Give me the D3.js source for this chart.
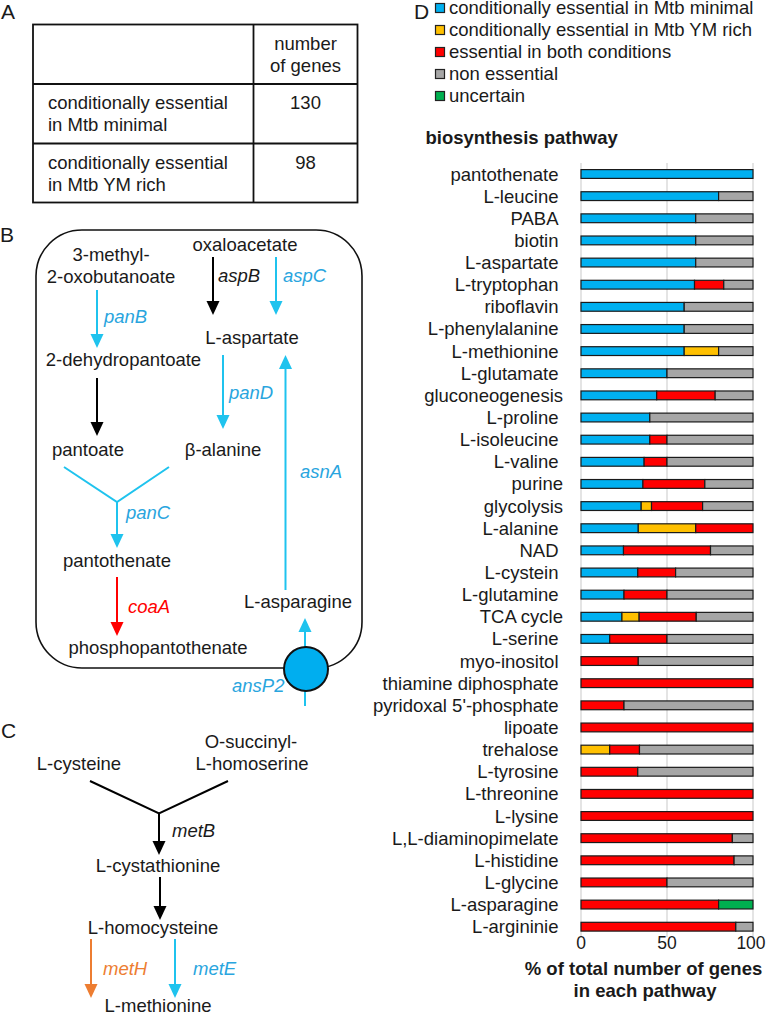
<!DOCTYPE html>
<html><head><meta charset="utf-8">
<script src="https://cdn.jsdelivr.net/npm/d3@7"></script>
<style>html,body{margin:0;padding:0;background:#fff}svg{display:block}text{font-family:"Liberation Sans",Arial,sans-serif;fill:#1a1a1a}</style>
</head><body><svg id="c" width="766" height="1016"></svg>
<script>
const categories=["pantothenate","L-leucine","PABA","biotin","L-aspartate","L-tryptophan","riboflavin","L-phenylalanine","L-methionine","L-glutamate","gluconeogenesis","L-proline","L-isoleucine","L-valine","purine","glycolysis","L-alanine","NAD","L-cystein","L-glutamine","TCA cycle","L-serine","myo-inositol","thiamine diphosphate","pyridoxal 5'-phosphate","lipoate","trehalose","L-tyrosine","L-threonine","L-lysine","L,L-diaminopimelate","L-histidine","L-glycine","L-asparagine","L-argininie"];
const seriesNames=["conditionally essential in Mtb minimal","conditionally essential in Mtb YM rich","essential in both conditions","non essential","uncertain"];
const seriesColors=["#00b0f0","#ffc000","#ff0000","#a6a6a6","#00b050"];
const condMinimal=[100,80,66.7,66.7,66.7,66,60,60,60,50,44,40,40,36.7,36,35,33.3,24.7,33,25,23.8,16.7,0,0,0,0,0,0,0,0,0,0,0,0,0];
const condRich=[0,0,0,0,0,0,0,0,20,0,0,0,0,0,0,6,33.4,0,0,0,10,0,0,0,0,0,16.7,0,0,0,0,0,0,0,0];
const essentialBoth=[0,0,0,0,0,17,0,0,0,0,34,0,10,13.3,36,29.7,33.3,50.6,22,25,33.2,33.3,33.3,100,25,100,17.3,33,100,100,88,89,50,80,90];
const nonEssential=[0,20,33.3,33.3,33.3,17,40,40,20,50,22,60,50,50,28,29.3,0,24.7,45,50,33,50,66.7,0,75,0,66,67,0,0,12,11,50,0,10];
const uncertain=[0,0,0,0,0,0,0,0,0,0,0,0,0,0,0,0,0,0,0,0,0,0,0,0,0,0,0,0,0,0,0,0,0,20,0];
const xTicks=[0,50,100];
const tableRows=[["conditionally essential","in Mtb minimal","130"],["conditionally essential","in Mtb YM rich","98"]];
const shiftedLabels=["gluconeogenesis","purine","glycolysis","TCA cycle"];

const svg=d3.select("#c");
const FS=18.5;
const x=d3.scaleLinear().domain([0,100]).range([581,753]);
const y=d3.scalePoint().domain(categories).range([174,926.7]);
const color=d3.scaleOrdinal().domain(seriesNames).range(seriesColors);
const table=categories.map((c,i)=>({cat:c,[seriesNames[0]]:condMinimal[i],[seriesNames[1]]:condRich[i],[seriesNames[2]]:essentialBoth[i],[seriesNames[3]]:nonEssential[i],[seriesNames[4]]:uncertain[i]}));
const stacked=d3.stack().keys(seriesNames)(table);

function txt(s,px,py,o={}){const t=svg.append("text").attr("x",px).attr("y",py).attr("font-size",o.size||FS).text(s);
 if(o.anchor)t.attr("text-anchor",o.anchor);if(o.italic)t.attr("font-style","italic");if(o.bold)t.attr("font-weight","bold");if(o.fill)t.style("fill",o.fill);return t;}

// panel letters
txt("A",1,18.5,{size:21});txt("B",0,241.5,{size:21});txt("C",1,738,{size:21});txt("D",414,19,{size:21});

// panel A
const tb=svg.append("g").attr("stroke","#111").attr("stroke-width",1.8).attr("fill","none");
tb.append("rect").attr("x",33).attr("y",24.5).attr("width",324.5).attr("height",178);
[[33,84,357.5,84],[33,143.5,357.5,143.5],[253.5,24.5,253.5,202.5]].forEach(l=>tb.append("line").attr("x1",l[0]).attr("y1",l[1]).attr("x2",l[2]).attr("y2",l[3]));
txt("number",305.5,50,{anchor:"middle"});txt("of genes",305.5,72,{anchor:"middle"});
tableRows.forEach((r,i)=>{const b=[109,169][i];txt(r[0],48,b);txt(r[1],48,b+22);txt(r[2],305.5,b,{anchor:"middle"});});

// pathway helpers
const BLUE="#1fc3ee",LBL="#29a5de",BLACK="#000",RED="#ff0000",ORANGE="#ed7d31";
const line=d3.line();
function arrow(px,y0,y1,col){const d=y1>y0?1:-1,hl=14,hw=6.5;
 svg.append("path").attr("d",line([[px,y0],[px,y1-d*hl+d]])).attr("stroke",col).attr("stroke-width",2).attr("fill","none");
 svg.append("path").attr("d",line([[px-hw,y1-d*hl],[px+hw,y1-d*hl],[px,y1]])+"Z").attr("fill",col);}
function fork(a,b,c,col){svg.append("path").attr("d",line([a,b,c])).attr("stroke",col).attr("stroke-width",2).attr("fill","none");}

// panel B
svg.append("rect").attr("x",36).attr("y",230).attr("width",326).attr("height",438).attr("rx",46).attr("fill","none").attr("stroke","#111").attr("stroke-width",1.6);
arrow(305,706,618,BLUE);
svg.append("circle").attr("cx",306).attr("cy",669).attr("r",22).attr("fill","#00aeef").attr("stroke","#111").attr("stroke-width",2);
arrow(97,290,348,BLUE);arrow(97,378,436,BLACK);arrow(213,257,315,BLACK);arrow(276,257,315,BLUE);arrow(223,355,429,BLUE);arrow(285.5,590,355,BLUE);
fork([64,467],[117,502],[169,467],BLUE);arrow(117,502,548,BLUE);arrow(117,577,636,RED);
[["3-methyl-",111,261],["2-oxobutanoate",111,283],["2-dehydropantoate",123.5,366],["oxaloacetate",245,251],["L-aspartate",252,344],["pantoate",88,456],["β-alanine",223,456],["pantothenate",117,567],["phosphopantothenate",158,654],["L-asparagine",298,608]].forEach(d=>txt(d[0],d[1],d[2],{anchor:"middle"}));
[["panB",104,323,LBL],["aspB",218,282,"#1a1a1a"],["aspC",283,282,LBL],["panD",229,399,LBL],["asnA",300,478,LBL],["panC",126,519,LBL],["coaA",128,613,RED],["ansP2",232,692,LBL]].forEach(d=>txt(d[0],d[1],d[2],{italic:true,fill:d[3]}));

// panel C
[["O-succinyl-",251,748],["L-homoserine",252,770],["L-cysteine",79,770],["L-cystathionine",158,872],["L-homocysteine",153,934],["L-methionine",158,1012]].forEach(d=>txt(d[0],d[1],d[2],{anchor:"middle"}));
fork([90,781],[159,813.5],[228,781],BLACK);arrow(159,813,855,BLACK);arrow(160,877,920,BLACK);arrow(91,939,998,ORANGE);arrow(175,939,998,BLUE);
[["metB",172,837,"#1a1a1a"],["metH",103,975,ORANGE],["metE",193,975,LBL]].forEach(d=>txt(d[0],d[1],d[2],{italic:true,fill:d[3]}));

// panel D legend
const lg=svg.append("g").selectAll("g").data(seriesNames).join("g").attr("transform",(d,i)=>`translate(0,${8+i*22})`);
lg.append("rect").attr("x",435.5).attr("y",-4.5).attr("width",9).attr("height",9).attr("fill",d=>color(d)).attr("stroke","#222").attr("stroke-width",1.2);
lg.append("text").attr("x",449).attr("y",5.5).attr("font-size",FS).text(d=>d);
txt("biosynthesis pathway",425.5,144,{bold:true,size:18.5});

// grid
svg.append("g").selectAll("line").data(xTicks).join("line").attr("x1",d=>x(d)).attr("x2",d=>x(d)).attr("y1",163).attr("y2",937).attr("stroke","#d9d9d9").attr("stroke-width",1.4);
// bars
const bh=8.8;
svg.append("g").selectAll("g").data(stacked).join("g").attr("fill",d=>color(d.key)).selectAll("rect").data(d=>d.filter(e=>e[1]>e[0])).join("rect")
 .attr("x",d=>x(d[0])).attr("width",d=>x(d[1])-x(d[0])).attr("y",d=>y(d.data.cat)-bh/2).attr("height",bh).attr("stroke","#1a1a1a").attr("stroke-width",1.2);
// category labels
svg.append("g").selectAll("text").data(categories).join("text").attr("x",d=>shiftedLabels.includes(d)?563:558.5).attr("y",d=>y(d)+6.5).attr("text-anchor","end").attr("font-size",FS).text(d=>d);
// x axis labels
svg.append("g").selectAll("text").data(xTicks).join("text").attr("x",d=>x(d)-(d==100?2:0)).attr("y",949).attr("text-anchor","middle").attr("font-size",17.5).text(d=>d);
txt("% of total number of genes",643.5,975,{bold:true,anchor:"middle",size:18.5});
txt("in each pathway",645,997,{bold:true,anchor:"middle",size:18.5});
</script></body></html>
